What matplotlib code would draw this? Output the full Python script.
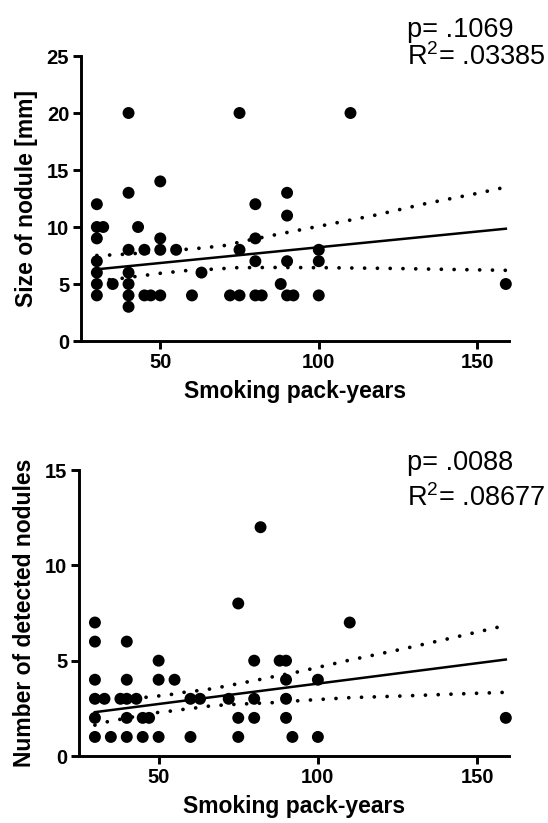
import numpy as np
import matplotlib
matplotlib.use('Agg')
import matplotlib.pyplot as plt

plt.rcParams['font.family'] = ['Liberation Sans', 'DejaVu Sans']
plt.rcParams['mathtext.fontset'] = 'custom'
plt.rcParams['mathtext.rm'] = 'Liberation Sans'

# size of nodule vs pack-years
size_x = [30, 30, 30, 30, 30, 30, 30, 32, 35,
          40, 40, 40, 40, 40, 40, 40, 43, 45, 45, 47,
          50, 50, 50, 50, 55, 60, 63, 72, 75, 75, 75,
          80, 80, 80, 80, 82, 88, 90, 90, 90, 90, 92,
          100, 100, 100, 110, 159]
size_y = [12, 10, 9, 7, 6, 5, 4, 10, 5,
          20, 13, 8, 6, 5, 4, 3, 10, 8, 4, 4,
          14, 9, 8, 4, 8, 4, 6, 4, 20, 8, 4,
          12, 9, 7, 4, 4, 5, 13, 11, 7, 4, 4,
          8, 7, 4, 20, 5]
size_fit_x = [30, 159]
size_fit_y = [6.29, 9.85]
size_hi_x = [30, 34, 38, 46, 54, 62, 70, 78, 86, 94, 102, 118, 134, 150, 159]
size_hi_y = [7.5, 7.54, 7.6, 7.75, 7.95, 8.13, 8.36, 8.85, 9.3, 9.74, 10.17, 11.05, 12.07, 12.95, 13.5]
size_lo_x = [30, 34, 38, 42, 46, 50, 54, 58, 66, 74, 86, 102, 122, 139, 159]
size_lo_y = [5.2, 5.38, 5.5, 5.65, 5.79, 5.94, 6.05, 6.17, 6.29, 6.43, 6.45, 6.43, 6.37, 6.29, 6.2]

# number of detected nodules vs pack-years
count_x = [30, 30, 30, 30, 30, 30, 33, 35, 38,
           40, 40, 40, 40, 40, 43, 45, 45, 47,
           50, 50, 50, 55, 60, 60, 63, 72, 75, 75, 75,
           80, 80, 80, 82, 88, 90, 90, 90, 90, 92,
           100, 100, 110, 159]
count_y = [7, 6, 4, 3, 2, 1, 3, 1, 3,
           6, 4, 3, 2, 1, 3, 2, 1, 2,
           5, 4, 1, 4, 3, 1, 3, 3, 8, 2, 1,
           5, 3, 2, 12, 5, 5, 4, 3, 2, 1,
           4, 1, 7, 2]
count_fit_x = [30, 159]
count_fit_y = [2.3, 5.06]
count_hi_x = [30, 38, 46, 50, 54, 58, 62, 66, 70, 74, 82, 86, 94, 110, 126, 141.5, 159]
count_hi_y = [2.98, 3.02, 3.08, 3.15, 3.23, 3.34, 3.42, 3.51, 3.63, 3.76, 4.02, 4.16, 4.42, 5.03, 5.59, 6.17, 6.85]
count_lo_x = [30, 34, 42, 50, 54, 58, 62, 66, 70, 74, 86, 94, 110, 127, 143, 159]
count_lo_y = [1.62, 1.8, 2.05, 2.29, 2.36, 2.45, 2.53, 2.62, 2.67, 2.71, 2.8, 2.9, 3.06, 3.15, 3.25, 3.34]

W, H = 548, 823
fig = plt.figure(figsize=(W / 100, H / 100), dpi=100)

ax1 = fig.add_axes([81 / W, 1 - 341 / H, 428 / W, 285 / H])
ax2 = fig.add_axes([79 / W, 1 - 756 / H, 430 / W, 286 / H])

def draw(ax, xs, ys, fx, fy, hx, hy, lx, ly, ymax, ystep, ylabel):
    ax.scatter(xs, ys, s=74, color='black', edgecolors='none', zorder=3, clip_on=False)
    ax.plot(fx, fy, color='black', lw=1.8, zorder=4)
    for bx, by in ((hx, hy), (lx, ly)):
        ax.plot(bx, by, color='black', lw=2.7, linestyle=(0, (0.01, 3.4)),
                dash_capstyle='round', zorder=2)
    ax.set_xlim(25, 160)
    ax.set_ylim(0, ymax)
    ax.set_xticks([50, 100, 150])
    ax.set_yticks(np.arange(0, ymax + 1, ystep))
    for side in ('top', 'right'):
        ax.spines[side].set_visible(False)
    for side in ('left', 'bottom'):
        ax.spines[side].set_linewidth(2.1)
    ax.tick_params(width=2.1, length=5.5, labelsize=14.5, pad=3)
    for lab in ax.get_xticklabels() + ax.get_yticklabels():
        lab.set_fontweight('bold')
    ax.set_xlabel('Smoking pack-years', fontsize=16.5, fontweight='bold', labelpad=6)
    ax.set_ylabel(ylabel, fontsize=16.5, fontweight='bold', labelpad=6)

draw(ax1, size_x, size_y, size_fit_x, size_fit_y, size_hi_x, size_hi_y,
     size_lo_x, size_lo_y, 25, 5, 'Size of nodule [mm]')
draw(ax2, count_x, count_y, count_fit_x, count_fit_y, count_hi_x, count_hi_y,
     count_lo_x, count_lo_y, 15, 5, 'Number of detected nodules')

fig.text(407 / W, 1 - 37 / H, 'p= .1069', fontsize=19.5, va='baseline')
fig.text(407 / W, 1 - 65 / H, r'R$^{2}$= .03385', fontsize=19.5, va='baseline')
fig.text(407 / W, 1 - 470 / H, 'p= .0088', fontsize=19.5, va='baseline')
fig.text(407 / W, 1 - 506 / H, r'R$^{2}$= .08677', fontsize=19.5, va='baseline')

fig.savefig('out.png', dpi=100)
